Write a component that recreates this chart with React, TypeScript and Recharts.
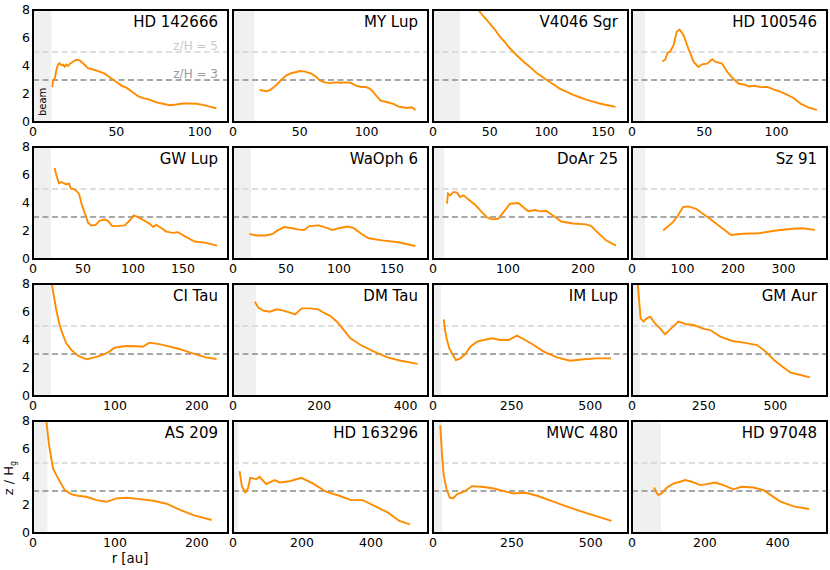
import React from 'react';
import { LineChart, Line, XAxis, YAxis, ReferenceLine, ReferenceArea } from 'recharts';

// disc names, in panel order (row by row)
const names = [
  'HD 142666', 'MY Lup', 'V4046 Sgr', 'HD 100546',
  'GW Lup', 'WaOph 6', 'DoAr 25', 'Sz 91',
  'CI Tau', 'DM Tau', 'IM Lup', 'GM Aur',
  'AS 209', 'HD 163296', 'MWC 480', 'HD 97048',
];

// x-axis upper limit [au], beam size [au] and x ticks per panel
const xMaxes = [117, 146, 172, 135, 195, 184, 260, 386, 238, 452, 620, 680, 238, 565, 618, 535];
const beams = [11, 16, 24, 9, 18, 17, 15, 26, 22, 53, 25, 28, 17.5, 16, 29, 79];
const xTicks = [
  [0, 50, 100], [0, 50, 100], [0, 50, 100, 150], [0, 50, 100],
  [0, 50, 100, 150], [0, 50, 100, 150], [0, 100, 200], [0, 100, 200, 300],
  [0, 100, 200], [0, 200, 400], [0, 250, 500], [0, 250, 500],
  [0, 100, 200], [0, 200, 400], [0, 250, 500], [0, 200, 400],
];
const yTicks = [0, 2, 4, 6, 8];

// z/Hg profiles
const hd142666R = [11.6, 12, 13, 14, 15, 16, 17, 18, 19, 20, 21, 22, 24, 26, 28, 30, 33, 36, 40, 43, 46, 50, 53, 56, 60, 63, 66, 70, 74, 78, 82, 86, 90, 94, 98, 102, 106, 110];
const hd142666Z = [2.5, 2.9, 3.1, 3.7, 4.1, 4.2, 4.05, 4.1, 3.95, 4.1, 4.0, 4.15, 4.3, 4.45, 4.4, 4.2, 3.85, 3.75, 3.6, 3.45, 3.2, 2.85, 2.6, 2.45, 2.1, 1.85, 1.7, 1.6, 1.4, 1.3, 1.2, 1.25, 1.32, 1.32, 1.3, 1.22, 1.1, 0.98];

const myLupR = [19.8, 22, 25, 28, 30, 33, 36, 40, 44, 47.5, 50, 54, 58.7, 62, 65, 68, 72, 77, 81, 85, 88, 92, 96, 99.5, 102, 104, 107, 110.6, 115.6, 120, 124, 127, 130, 134, 136.6];
const myLupZ = [2.3, 2.25, 2.2, 2.3, 2.45, 2.7, 3.0, 3.33, 3.5, 3.57, 3.64, 3.6, 3.45, 3.25, 2.97, 2.85, 2.78, 2.83, 2.8, 2.83, 2.8, 2.6, 2.5, 2.5, 2.4, 2.25, 1.9, 1.53, 1.41, 1.3, 1.1, 1.05, 1.0, 1.05, 0.86];

const v4046R = [40, 45, 50, 55, 59, 64, 68, 74, 80, 86, 91.4, 96, 100, 106, 112, 118, 123.6, 130, 135, 141, 147, 154, 161];
const v4046Z = [8.0, 7.5, 7.04, 6.55, 6.1, 5.65, 5.25, 4.75, 4.3, 3.9, 3.5, 3.25, 3.02, 2.7, 2.37, 2.15, 1.94, 1.75, 1.6, 1.45, 1.32, 1.2, 1.08];

const hd100546R = [21, 23, 24.6, 26.5, 28.8, 31, 33, 35.7, 39, 42.7, 46, 48.5, 52, 55.5, 57.8, 62.4, 66, 69.4, 74, 77.5, 81, 84.5, 89, 93.7, 98.4, 103, 107.7, 112, 117, 122, 128];
const hd100546Z = [4.33, 4.45, 4.93, 5.05, 5.49, 6.45, 6.6, 6.2, 5.25, 4.29, 3.93, 4.12, 4.17, 4.48, 4.29, 4.17, 3.57, 3.16, 2.73, 2.68, 2.54, 2.59, 2.49, 2.51, 2.32, 2.15, 1.94, 1.7, 1.29, 1.05, 0.86];

const gwLupR = [21.7, 23.3, 26, 28.3, 33.3, 36, 38, 41.7, 46, 49, 52.7, 55, 58.3, 62.7, 66.7, 71.7, 75, 79.3, 83.3, 91.7, 96.7, 100.7, 103.3, 110, 116.7, 120, 123.3, 126.7, 133.3, 140, 145, 153.3, 161.7, 173.3, 184];
const gwLupZ = [6.5, 6.0, 5.4, 5.5, 5.33, 5.4, 5.03, 4.98, 4.67, 3.83, 3.11, 2.59, 2.4, 2.44, 2.75, 2.82, 2.73, 2.35, 2.35, 2.4, 2.75, 3.11, 3.04, 2.8, 2.51, 2.3, 2.44, 2.28, 1.96, 1.87, 1.92, 1.56, 1.25, 1.15, 0.96];

const waOph6R = [15.6, 21.9, 31, 37.5, 42, 48.4, 56, 62.5, 67, 72, 81, 89, 93.8, 100, 108, 114, 122, 128, 140.6, 156, 172];
const waOph6Z = [1.8, 1.68, 1.68, 1.8, 2.04, 2.28, 2.2, 2.1, 2.07, 2.35, 2.4, 2.2, 2.07, 2.2, 2.32, 2.2, 1.75, 1.48, 1.33, 1.2, 0.93];

const doAr25R = [18.6, 20, 23, 27.4, 32, 36, 40.7, 47, 56, 63, 71.7, 78.3, 87, 94, 102.7, 113.7, 120, 127, 136, 142.5, 151, 160, 171, 186.7, 204, 211, 220, 231, 244];
const doAr25Z = [3.95, 4.67, 4.55, 4.79, 4.74, 4.43, 4.55, 4.26, 3.88, 3.47, 2.99, 2.83, 2.87, 3.35, 3.95, 4.0, 3.71, 3.42, 3.5, 3.4, 3.45, 3.11, 2.68, 2.54, 2.47, 2.35, 1.87, 1.32, 0.96];

const sz91R = [61.7, 81, 91, 101, 111, 127, 154, 180, 196, 219, 252, 285, 318, 337, 362];
const sz91Z = [2.04, 2.63, 3.11, 3.71, 3.76, 3.59, 2.87, 2.16, 1.72, 1.8, 1.84, 2.04, 2.16, 2.2, 2.08];

const ciTauR = [23, 25, 28.4, 32.5, 36, 40.6, 46.7, 55, 65, 75, 85, 93.3, 99.4, 113.6, 125.8, 134, 142, 154, 162, 178.5, 194.7, 211, 224];
const ciTauZ = [8.0, 7.3, 6.14, 5.07, 4.45, 3.76, 3.29, 2.88, 2.62, 2.76, 2.93, 3.17, 3.45, 3.57, 3.55, 3.52, 3.81, 3.71, 3.6, 3.36, 3.05, 2.76, 2.64];

const dmTauR = [50.6, 58, 70, 85.6, 101, 117, 132, 144, 159.5, 179, 198, 210, 226, 241, 257, 272, 296, 327, 358, 389, 428];
const dmTauZ = [6.74, 6.33, 6.1, 6.02, 6.19, 6.1, 5.95, 5.83, 6.26, 6.26, 6.19, 5.95, 5.71, 5.31, 4.71, 4.12, 3.64, 3.17, 2.76, 2.52, 2.29];

const imLupR = [34, 39, 44.5, 52, 60, 73, 87, 103, 118.6, 140, 161, 187.5, 214, 240, 267, 293, 320, 352, 394, 436, 479, 521, 566];
const imLupZ = [5.48, 4.6, 4.0, 3.4, 3.05, 2.57, 2.69, 3.0, 3.52, 3.88, 4.0, 4.12, 4.0, 4.0, 4.31, 4.0, 3.64, 3.17, 2.76, 2.52, 2.62, 2.69, 2.69];

const gmAurR = [20, 25.7, 30, 40, 51, 63, 80.5, 98, 115.5, 133, 162, 191, 215, 250, 273, 308, 349, 390, 436, 466, 495, 524, 553, 588, 620];
const gmAurZ = [8.0, 6.62, 5.55, 5.31, 5.55, 5.67, 5.19, 4.83, 4.4, 4.76, 5.31, 5.12, 5.07, 4.79, 4.71, 4.24, 3.93, 3.81, 3.64, 3.17, 2.57, 2.1, 1.67, 1.5, 1.33];

const as209R = [16.3, 19.6, 24.5, 30.6, 38.8, 47, 55, 65, 77.6, 89.8, 102, 114, 130.6, 147, 163, 180, 196, 218];
const as209Z = [8.0, 6.27, 4.6, 3.9, 3.06, 2.76, 2.66, 2.59, 2.35, 2.23, 2.47, 2.52, 2.42, 2.3, 2.09, 1.64, 1.28, 0.93];

const hd163296R = [19, 26, 35.7, 43.4, 50, 58, 67.5, 77, 96, 120.5, 135, 164, 198, 231, 270, 308, 342, 376, 414, 448, 482, 513];
const hd163296Z = [4.42, 3.3, 2.9, 3.18, 3.94, 3.9, 3.85, 4.01, 3.49, 3.78, 3.61, 3.7, 3.94, 3.54, 2.95, 2.66, 2.35, 2.35, 1.88, 1.47, 0.86, 0.62];

const mwc480R = [23, 28.6, 34, 42.4, 53, 63.6, 76, 97.5, 124, 155.7, 193, 224.6, 256, 293, 330.5, 383.5, 436.4, 489, 565.7];
const mwc480Z = [7.69, 5.55, 4.13, 3.18, 2.52, 2.47, 2.76, 2.95, 3.35, 3.3, 3.18, 2.99, 2.82, 2.87, 2.66, 2.23, 1.8, 1.4, 0.86];

const hd97048R = [60.4, 66, 72, 81.5, 95, 113.5, 132, 145.5, 164, 187, 205, 228, 251, 278.5, 300, 333, 361, 379, 406, 443, 486];
const hd97048Z = [3.25, 2.95, 2.71, 2.83, 3.23, 3.53, 3.66, 3.78, 3.66, 3.42, 3.49, 3.6, 3.42, 3.12, 3.3, 3.25, 3.06, 2.74, 2.26, 1.9, 1.71];

const radii = [hd142666R, myLupR, v4046R, hd100546R, gwLupR, waOph6R, doAr25R, sz91R, ciTauR, dmTauR, imLupR, gmAurR, as209R, hd163296R, mwc480R, hd97048R];
const heights = [hd142666Z, myLupZ, v4046Z, hd100546Z, gwLupZ, waOph6Z, doAr25Z, sz91Z, ciTauZ, dmTauZ, imLupZ, gmAurZ, as209Z, hd163296Z, mwc480Z, hd97048Z];

// layout
const COL_X = [33, 233, 433, 632];
const ROW_Y = [10, 147, 284, 421];
const PW = 195;
const PH = 112;
const LM = 30;
const TM = 8;
const RM = 4;
const BM = 24;
const FONT = '"DejaVu Sans", Verdana, sans-serif';
const ORANGE = '#ff8c00';
const frame = { stroke: '#000', strokeWidth: 2, strokeLinecap: 'square' as const };
const tickLine = { stroke: '#000', strokeWidth: 1.2 };

const ZLabel = (props: any) => {
  const vb = props.viewBox;
  return (
    <text x={vb.x + vb.width - 10} y={vb.y - 2.5} textAnchor="end" fill={props.color} fontSize={12} fontFamily={FONT}>
      {props.text}
    </text>
  );
};

const BeamLabel = (props: any) => {
  const vb = props.viewBox;
  const x = vb.x + vb.width / 2 + 3.8;
  const y = vb.y + vb.height - 6;
  return (
    <text x={x} y={y} transform={`rotate(-90, ${x}, ${y})`} textAnchor="start" fill="#000" fontSize={10} fontFamily={FONT}>
      beam
    </text>
  );
};

function Panel({ idx }: { idx: number }) {
  const row = Math.floor(idx / 4);
  const col = idx % 4;
  const data = radii[idx].map((r, i) => ({ r, z: heights[idx][i] }));
  const xMax = xMaxes[idx];
  const first = idx === 0;

  return (
    <div style={{ position: 'absolute', left: COL_X[col] - LM, top: ROW_Y[row] - TM }}>
      <LineChart width={LM + PW + RM} height={TM + PH + BM} data={data} margin={{ top: TM, right: RM, bottom: 0, left: 0 }}>
        {/* labelled axes */}
        <XAxis
          xAxisId="b" dataKey="r" type="number" domain={[0, xMax]} allowDataOverflow ticks={xTicks[idx]} interval={0}
          height={BM} tickSize={0} tickMargin={4.7} axisLine={false} tickLine={false}
          tick={{ fill: '#000', fontSize: 12.5 }}
        />
        <YAxis
          yAxisId="l" type="number" domain={[0, 8]} allowDataOverflow ticks={yTicks} interval={0}
          width={LM} tickSize={0} tickMargin={3} axisLine={false} tickLine={false}
          tick={col === 0 ? { fill: '#000', fontSize: 12.5 } : false}
        />
        {/* frame with inward ticks on all four sides */}
        <XAxis
          xAxisId="fb" orientation="bottom" mirror type="number" domain={[0, xMax]} allowDataOverflow ticks={xTicks[idx]} interval={0}
          height={1} tickSize={4} axisLine={frame} tickLine={tickLine} tick={false}
        />
        <XAxis
          xAxisId="ft" orientation="top" mirror type="number" domain={[0, xMax]} allowDataOverflow ticks={xTicks[idx]} interval={0}
          height={1} tickSize={4} axisLine={frame} tickLine={tickLine} tick={false}
        />
        <YAxis
          yAxisId="fl" orientation="left" mirror type="number" domain={[0, 8]} allowDataOverflow ticks={yTicks} interval={0}
          width={1} tickSize={4} axisLine={frame} tickLine={tickLine} tick={false}
        />
        <YAxis
          yAxisId="fr" orientation="right" mirror type="number" domain={[0, 8]} allowDataOverflow ticks={yTicks} interval={0}
          width={1} tickSize={4} axisLine={frame} tickLine={tickLine} tick={false}
        />
        <ReferenceArea
          xAxisId="b" yAxisId="l" x1={0} x2={beams[idx]} y1={0} y2={8}
          fill="#f0f0f0" fillOpacity={1} stroke="none" ifOverflow="hidden"
          label={first ? <BeamLabel /> : undefined}
        />
        <ReferenceLine
          xAxisId="b" yAxisId="l" y={5} stroke="#d3d3d3" strokeWidth={1.3} strokeDasharray="6 3.5"
          label={first ? <ZLabel text="z/H = 5" color="#c8c8c8" /> : undefined}
        />
        <ReferenceLine
          xAxisId="b" yAxisId="l" y={3} stroke="#8c8c8c" strokeWidth={1.3} strokeDasharray="6 3.5"
          label={first ? <ZLabel text="z/H = 3" color="#999999" /> : undefined}
        />
        <Line
          xAxisId="b" yAxisId="l" type="linear" dataKey="z" stroke={ORANGE} strokeWidth={1.9}
          dot={false} activeDot={false} isAnimationActive={false}
        />
      </LineChart>
      <div
        style={{
          position: 'absolute', right: RM + 10, top: TM + 5, fontSize: 15, lineHeight: '15px',
          color: '#000', whiteSpace: 'nowrap', fontFamily: FONT,
        }}
      >
        {names[idx]}
      </div>
    </div>
  );
}

export default function App() {
  return (
    <div style={{ position: 'absolute', left: 0, top: 0, width: 830, height: 570, background: '#fff', fontFamily: FONT }}>
      {names.map((_, i) => (
        <Panel key={i} idx={i} />
      ))}
      <div
        style={{
          position: 'absolute', left: 11, top: 478, transform: 'translate(-50%, -50%) rotate(-90deg)',
          fontSize: 13, whiteSpace: 'nowrap', lineHeight: '15px',
        }}
      >
        z / H<sub style={{ fontSize: 8 }}>g</sub>
      </div>
      <div
        style={{
          position: 'absolute', left: 130, top: 552, transform: 'translateX(-50%)',
          fontSize: 13.3, whiteSpace: 'nowrap', lineHeight: '13px',
        }}
      >
        r [au]
      </div>
    </div>
  );
}
